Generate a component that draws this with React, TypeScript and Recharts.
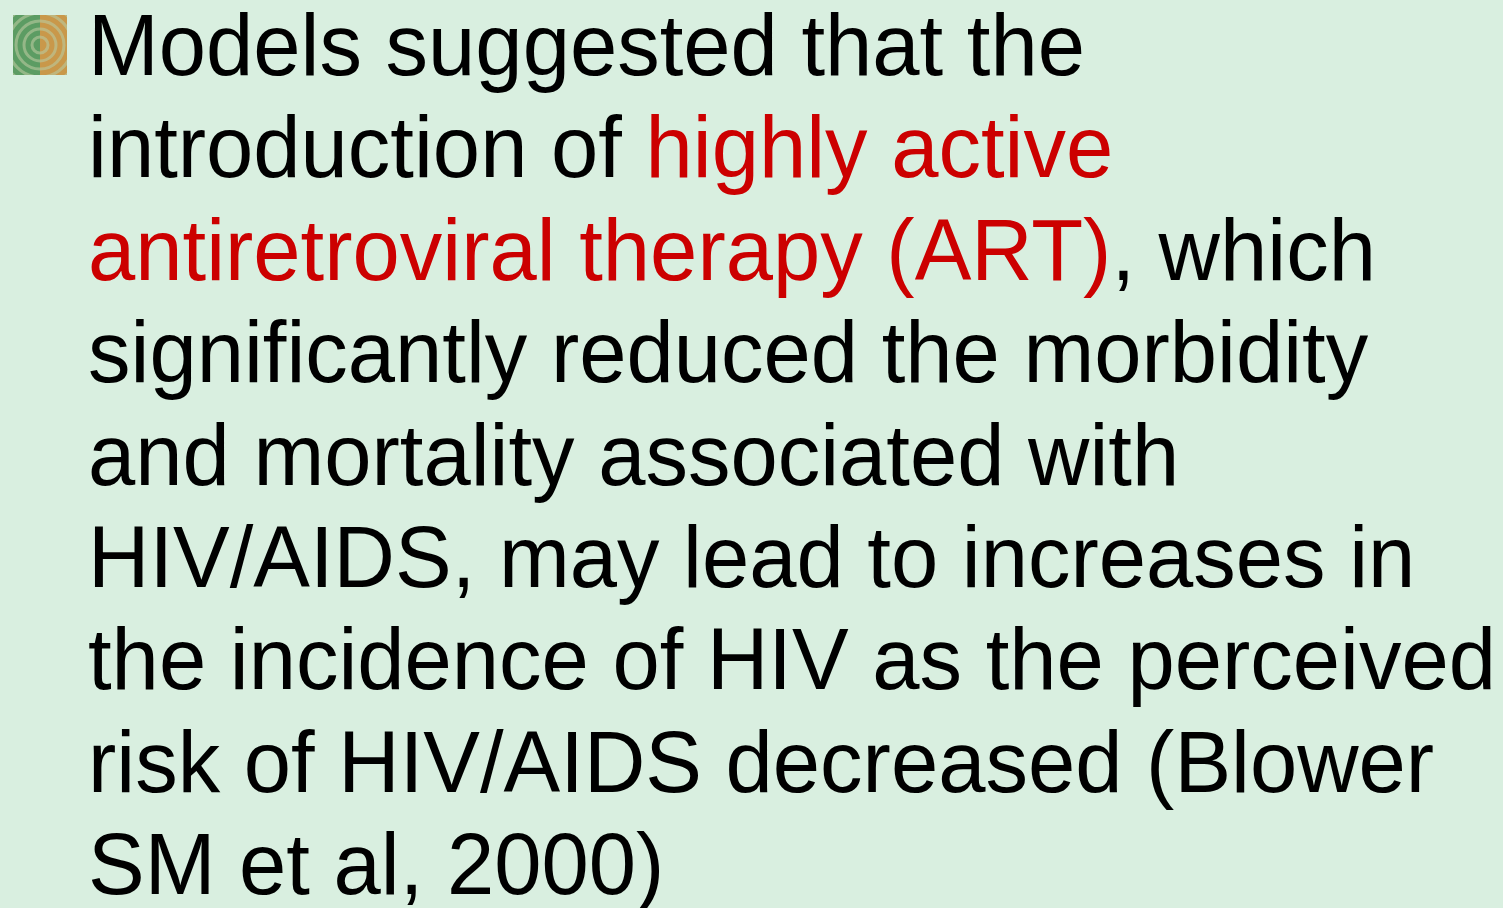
import { Surface, Layer } from "recharts";

// slide text, one entry per line; red marks the highlighted segment
const LINE_SEGMENTS: { text: string; red?: boolean }[][] = [
  [{ text: "Models suggested that the" }],
  [{ text: "introduction of " }, { text: "highly active", red: true }],
  [{ text: "antiretroviral therapy (ART)", red: true }, { text: ", which" }],
  [{ text: "significantly reduced the morbidity" }],
  [{ text: "and mortality associated with" }],
  [{ text: "HIV/AIDS, may lead to increases in" }],
  [{ text: "the incidence of HIV as the perceived" }],
  [{ text: "risk of HIV/AIDS decreased (Blower" }],
  [{ text: "SM et al, 2000)" }],
];

const RING_RADII = [8, 16, 24, 32, 40, 48];

const W = 1503;
const H = 908;
const BG = "#D9EFE0";
const RED = "#CC0000";
const FONT = "'Liberation Sans', Arial, Helvetica, sans-serif";
const FONT_SIZE = 88;
const FIRST_BASELINE = 75;
const LINE_GAP = 102.4;
const TEXT_X = 88;
const SCALE_X = 0.966;

function BulletIcon({ x, y, size }: { x: number; y: number; size: number }) {
  const h = size + 6;
  return (
    <Layer>
      <defs>
        <clipPath id="bulletClip">
          <rect x={x} y={y} width={size} height={h} />
        </clipPath>
      </defs>
      <g clipPath="url(#bulletClip)">
        <rect x={x} y={y} width={size / 2} height={h} fill="#5C9C63" />
        <rect x={x + size / 2} y={y} width={size / 2} height={h} fill="#C9984A" />
        {RING_RADII.map((r) => (
          <circle
            key={r}
            cx={x + size / 2}
            cy={y + h / 2}
            r={r}
            fill="none"
            stroke="#B9C9A0"
            strokeOpacity={0.6}
            strokeWidth={3}
          />
        ))}
      </g>
    </Layer>
  );
}

export default function App() {
  return (
    <div
      style={{
        position: "absolute",
        left: 0,
        top: 0,
        width: W,
        height: H,
        background: BG,
        overflow: "hidden",
      }}
    >
      <Surface width={W} height={H}>
        <rect x={0} y={0} width={W} height={H} fill={BG} />
        <BulletIcon x={13} y={15} size={54} />
        <Layer transform={`translate(${TEXT_X},0) scale(${SCALE_X},1)`}>
          {LINE_SEGMENTS.map((segs, i) => (
            <text
              key={i}
              x={0}
              y={FIRST_BASELINE + i * LINE_GAP}
              fontFamily={FONT}
              fontSize={FONT_SIZE}
              fill="#000000"
            >
              {segs.map((s, j) => (
                <tspan key={j} fill={s.red ? RED : "#000000"}>
                  {s.text}
                </tspan>
              ))}
            </text>
          ))}
        </Layer>
      </Surface>
    </div>
  );
}
